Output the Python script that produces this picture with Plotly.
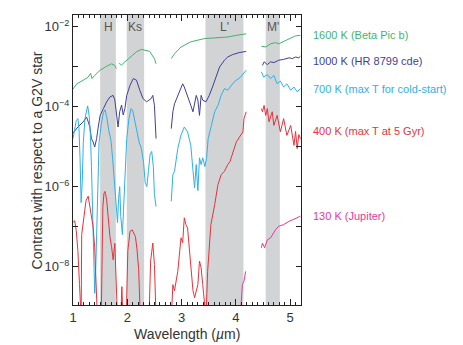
import plotly.graph_objects as go

# photometric bands (name, start, end) in micron
band_names = ["H", "Ks", "L'", "M'"]
band_lo = [1.50, 1.99, 3.44, 4.55]
band_hi = [1.79, 2.31, 4.14, 4.81]

# spectra: wavelength (micron) and log10(contrast); None = gap
wl_1600 = [1.00, 1.07, 1.19, 1.28, 1.325, 1.35, 1.40, 1.50, 1.62, 1.71, 1.77, 1.80, None,
           1.85, 1.895, 1.956, 2.05, 2.17, 2.26, 2.32, 2.415, 2.44, 2.50, 2.53, None,
           2.81, 2.87, 2.99, 3.17, 3.42, 3.60, 3.85, 4.00, 4.19, None,
           4.47, 4.55, 4.64, 4.73, 4.79, 4.88, 5.01, 5.10, 5.19]
lc_1600 = [-3.56, -3.43, -3.34, -3.26, -3.17, -3.30, -3.22, -3.09, -2.99, -2.93, -2.97, -3.05, None,
           -2.92, -2.96, -2.88, -2.76, -2.63, -2.57, -2.59, -2.62, -2.68, -2.80, -2.93, None,
           -2.80, -2.68, -2.51, -2.38, -2.30, -2.28, -2.26, -2.22, -2.18, None,
           -2.49, -2.51, -2.43, -2.40, -2.43, -2.37, -2.30, -2.23, -2.22]

wl_1000 = [1.00, 1.09, 1.19, 1.25, 1.28, 1.31, 1.34, 1.37, 1.40, 1.435, 1.465, 1.50, 1.56, 1.62,
           1.68, 1.74, 1.77, 1.80, 1.83, 1.86, 1.895, 1.925, 1.956, 1.99, 2.05, 2.11, 2.17, 2.23,
           2.29, 2.355, 2.415, 2.44, 2.47, 2.50, 2.53, None,
           2.81, 2.84, 2.87, 2.93, 2.99, 3.02, 3.05, 3.11, 3.17, 3.21, 3.24, 3.27, 3.30, 3.33,
           3.36, 3.39, 3.45, 3.51, 3.57, 3.63, 3.70, 3.79, 3.85, 3.94, 4.06, 4.19, None,
           4.49, 4.52, 4.58, 4.64, 4.70, 4.79, 4.88, 4.98, 5.04, 5.10, 5.16, 5.19]
lc_1000 = [-4.66, -4.51, -4.38, -4.26, -4.38, -4.51, -4.80, -4.88, -5.01, -4.80, -4.51, -4.22, -4.05, -3.88,
           -3.76, -3.72, -3.83, -4.13, -4.51, -4.13, -3.96, -4.21, -4.05, -3.72, -3.47, -3.30, -3.34, -3.59,
           -3.80, -3.88, -3.83, -3.80, -3.72, -3.97, -4.80, None,
           -4.55, -4.13, -3.93, -3.72, -3.55, -3.43, -3.51, -3.72, -3.97, -4.13, -3.93, -3.72, -3.84, -4.22,
           -3.72, -3.84, -3.88, -3.72, -3.51, -3.26, -3.01, -2.84, -2.76, -2.70, -2.65, -2.62, None,
           -2.97, -2.88, -2.95, -2.88, -2.90, -2.84, -2.82, -2.78, -2.80, -2.76, -2.78, -2.74]

wl_700 = [1.00, 1.03, 1.06, 1.09, 1.11, 1.13, 1.15, 1.17, 1.19, 1.22, 1.25, 1.27, 1.30, 1.32, 1.34,
          1.36, 1.38, 1.40, 1.42, 1.44, 1.46, 1.48, 1.52, 1.56, 1.59, 1.62, 1.66, 1.70, 1.73, 1.76,
          1.79, 1.82, 1.84, 1.86, 1.88, 1.91, 1.93, 1.96, 1.99, 2.03, 2.07, 2.10, 2.14, 2.18, 2.22,
          2.26, 2.30, 2.33, 2.36, 2.39, 2.42, 2.45, 2.48, 2.50, 2.53, None,
          2.81, 2.84, 2.87, 2.90, 2.93, 2.99, 3.05, 3.11, 3.17, 3.21, 3.24, 3.27, 3.30, 3.33, 3.36,
          3.39, 3.43, 3.46, 3.49, 3.55, 3.61, 3.67, 3.73, 3.79, 3.85, 3.97, 4.09, 4.19, None,
          4.47, 4.51, 4.58, 4.64, 4.70, 4.76, 4.82, 4.88, 4.94, 5.01, 5.07, 5.13, 5.19]
lc_700 = [-4.80, -4.55, -4.35, -4.30, -4.55, -5.30, -6.40, -5.90, -4.90, -4.30, -4.05, -3.98, -4.25, -4.70, -5.50,
          -6.50, -7.60, -8.67, -8.00, -6.80, -5.60, -4.90, -4.45, -4.15, -4.08, -4.25, -4.60, -4.85, -5.30, -5.80,
          -6.40, -6.90, -6.30, -6.00, -6.75, -7.20, -6.60, -5.50, -4.80, -4.30, -4.05, -4.10, -4.40, -4.60, -4.90,
          -5.05, -5.40, -5.90, -6.00, -5.60, -5.20, -5.12, -5.50, -6.20, -6.50, None,
          -6.37, -5.70, -5.62, -5.30, -5.05, -4.71, -4.51, -4.63, -4.97, -5.60, -6.03, -5.45, -6.10, -5.28, -5.45,
          -5.28, -5.50, -5.30, -4.80, -4.47, -4.13, -3.97, -3.72, -3.55, -3.59, -3.38, -3.26, -3.09, None,
          -3.13, -3.26, -3.20, -3.30, -3.22, -3.43, -3.36, -3.51, -3.43, -3.59, -3.51, -3.63, -3.55]

wl_400 = [1.00, 1.03, 1.06, 1.09, 1.12, 1.15, 1.16, 1.20, 1.24, 1.28, 1.31, 1.34, 1.37, 1.40, 1.43,
          1.45, 1.52, 1.55, 1.57, 1.59, 1.62, 1.65, 1.68, 1.71, 1.74, 1.77, 1.80, 1.82, 1.88, 1.90,
          1.92, 1.98, 2.01, 2.03, 2.05, 2.09, 2.15, 2.18, 2.21, 2.24, 2.40, 2.43, 2.47, 2.50, 2.53, None,
          2.81, 2.84, 2.87, 2.90, 2.93, 2.99, 3.02, 3.05, 3.08, 3.11, 3.14, 3.17, 3.21, 3.24, 3.30,
          3.33, 3.36, 3.39, 3.42, 3.45, 3.48, 3.51, 3.54, 3.61, 3.67, 3.73, 3.79, 3.85, 3.89, 4.01,
          4.13, 4.15, 4.19, None,
          4.47, 4.49, 4.52, 4.55, 4.58, 4.61, 4.67, 4.70, 4.76, 4.82, 4.88, 4.94, 5.01, 5.07, 5.10,
          5.13, 5.16, 5.19]
lc_400 = [-6.90, -6.85, -7.10, -7.60, -8.45, -9.30, -7.20, -6.70, -6.35, -6.24, -6.50, -6.80, -7.00, -7.53, -8.45,
          -9.30, -9.30, -6.50, -6.17, -6.12, -6.33, -6.83, -7.25, -7.50, -7.83, -7.42, -8.33, -9.30, -9.30, -8.50,
          -9.30, -9.30, -7.60, -7.33, -7.12, -7.08, -7.25, -7.58, -8.08, -9.30, -9.30, -7.86, -7.41, -7.95, -9.30, None,
          -9.30, -8.45, -8.60, -8.36, -8.12, -7.28, -7.40, -6.78, -6.95, -7.03, -7.53, -8.03, -8.60, -8.78, -8.45,
          -7.86, -8.03, -8.45, -8.78, -9.30, -8.12, -7.53, -6.95, -6.45, -5.95, -5.70, -5.62, -5.45, -5.38, -4.88,
          -4.63, -4.30, -4.13, None,
          -4.05, -4.13, -3.97, -4.22, -4.05, -4.38, -4.13, -4.47, -4.22, -4.63, -4.30, -4.72, -4.47, -4.97, -4.62,
          -5.05, -4.70, -4.80]

wl_130 = [4.08, 4.12, 4.15, 4.18, None,
          4.47, 4.49, 4.53, 4.58, 4.64, 4.73, 4.79, 4.88, 4.98, 5.07, 5.13, 5.19]
lc_130 = [-9.30, -8.45, -8.36, -8.12, None,
          -7.53, -7.41, -7.53, -7.33, -7.28, -7.08, -6.99, -6.95, -6.87, -6.81, -6.78, -6.74]

series_labels = ["1600 K (Beta Pic b)", "1000 K (HR 8799 cde)", "700 K (max T for cold-start)",
                 "400 K (max T at 5 Gyr)", "130 K (Jupiter)"]
series_colors = ["#3fb56e", "#3f3f98", "#2fb0e6", "#e8323c", "#e23a9c"]
label_lc = [-2.21, -2.86, -3.56, -4.61, -6.74]

wls = [wl_1600, wl_1000, wl_700, wl_400, wl_130]
lcs = [lc_1600, lc_1000, lc_700, lc_400, lc_130]

FONT = "Liberation Sans"

fig = go.Figure()

for name, lo, hi in zip(band_names, band_lo, band_hi):
    fig.add_vrect(x0=lo, x1=hi, fillcolor="#d2d3d5", line_width=0, layer="below")
    fig.add_annotation(x=(lo + hi) / 2, y=-2.0, xref="x", yref="y", text=name,
                       showarrow=False, font=dict(family=FONT, size=12, color="#555"))

for wl, lc, col, lab, ly in zip(wls, lcs, series_colors, series_labels, label_lc):
    fig.add_trace(go.Scatter(
        x=wl, y=[None if v is None else 10 ** v for v in lc],
        mode="lines", line=dict(color=col, width=1), connectgaps=False,
        showlegend=False, hoverinfo="skip"))
    fig.add_annotation(x=1.044, y=ly, xref="paper", yref="y", text=lab, xanchor="left",
                       showarrow=False, font=dict(family=FONT, size=11, color=col))

# axis titles
fig.add_annotation(x=-0.20, y=0.5, xref="paper", yref="paper", textangle=-90,
                   text="Contrast with respect to a G2V star", showarrow=False,
                   font=dict(family=FONT, size=14, color="#333"))
fig.add_annotation(x=0.5, y=-0.1, xref="paper", yref="paper", yanchor="middle",
                   text="Wavelength (<i>µ</i>m)", showarrow=False,
                   font=dict(family=FONT, size=14, color="#333"))

fig.update_yaxes(type="log", range=[-8.96, -1.71], automargin=False,
                 tickvals=[1e-8, 1e-6, 1e-4, 1e-2],
                 ticktext=["10<sup>−8</sup>", "10<sup>−6</sup>", "10<sup>−4</sup>", "10<sup>−2</sup>"],
                 minor=dict(tickvals=[1e-9, 1e-7, 1e-5, 1e-3], ticklen=5, ticks="inside",
                            tickcolor="#222", showgrid=False),
                 ticks="inside", ticklen=5, tickcolor="#222", showline=True, linecolor="#222",
                 linewidth=1, mirror="ticks", showgrid=False, zeroline=False,
                 tickfont=dict(family=FONT, size=13, color="#333"))
fig.update_xaxes(range=[1.0, 5.2], tickvals=[1, 2, 3, 4, 5], automargin=False,
                 ticks="inside", ticklen=6, tickcolor="#222", showline=True, linecolor="#222",
                 linewidth=1, mirror="ticks", showgrid=False, zeroline=False,
                 minor=dict(dtick=0.1, tick0=1, ticklen=3, ticks="inside", tickcolor="#222", showgrid=False),
                 tickfont=dict(family=FONT, size=13, color="#333"))

# page body adds ~8px offset; plot area should sit at x 73-301, y 15-305 in the window
fig.update_layout(width=463, height=345, margin=dict(l=65, r=170, t=7, b=48),
                  paper_bgcolor="white", plot_bgcolor="white")

fig.write_html("out.html")
